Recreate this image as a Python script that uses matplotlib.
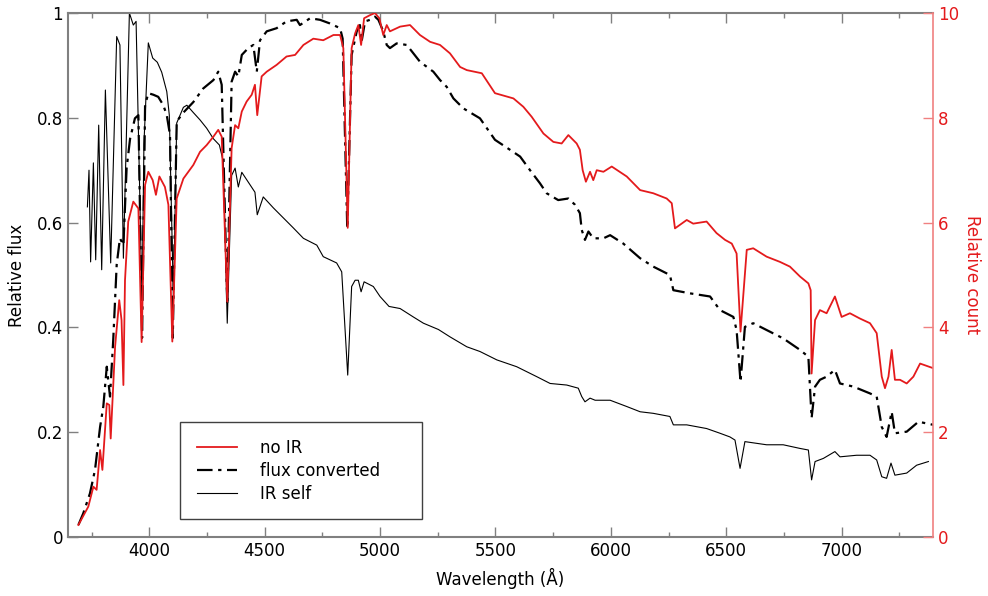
import matplotlib
matplotlib.use("Agg")
import matplotlib.pyplot as plt
from matplotlib.ticker import MultipleLocator

# IR self (thin black, left axis)
wl_self = [3732, 3739, 3746, 3758, 3768, 3781, 3794, 3810, 3833, 3859, 3873, 3888,
           3914, 3931, 3943, 3963, 3969, 3977, 3996, 4015, 4035, 4054, 4076, 4087,
           4105, 4119, 4148, 4163, 4191, 4220, 4249, 4278, 4304, 4321, 4338, 4357,
           4372, 4386, 4401, 4437, 4458, 4468, 4494, 4538, 4581, 4624, 4668, 4726,
           4754, 4812, 4834, 4860, 4877, 4892, 4906, 4918, 4931, 4971, 5000, 5039,
           5087, 5144, 5188, 5253, 5303, 5376, 5433, 5506, 5592, 5679, 5737, 5809,
           5859, 5874, 5888, 5910, 5932, 5997, 6069, 6127, 6184, 6256, 6271, 6329,
           6415, 6473, 6516, 6538, 6560, 6581, 6675, 6747, 6820, 6856, 6870, 6885,
           6921, 6971, 6993, 7065, 7123, 7152, 7174, 7195, 7214, 7231, 7282, 7325, 7376]
flux_self = [0.63, 0.70, 0.525, 0.714, 0.529, 0.786, 0.51, 0.853, 0.523, 0.955, 0.939, 0.532,
             1.0, 0.977, 0.984, 0.57, 0.45, 0.75, 0.943, 0.914, 0.906, 0.887, 0.85, 0.805,
             0.45, 0.79, 0.82, 0.824, 0.81, 0.796, 0.78, 0.76, 0.748, 0.716, 0.408, 0.69,
             0.704, 0.668, 0.696, 0.672, 0.658, 0.615, 0.649, 0.628, 0.609, 0.59, 0.57, 0.557,
             0.535, 0.523, 0.506, 0.309, 0.478, 0.49, 0.49, 0.468, 0.487, 0.478, 0.459, 0.44,
             0.436, 0.42, 0.408, 0.396, 0.382, 0.363, 0.354, 0.338, 0.325, 0.306, 0.293, 0.29,
             0.284, 0.268, 0.258, 0.265, 0.261, 0.261, 0.249, 0.239, 0.236, 0.23, 0.214, 0.214,
             0.207, 0.198, 0.191, 0.185, 0.131, 0.182, 0.176, 0.176, 0.169, 0.166, 0.109, 0.144,
             0.15, 0.163, 0.153, 0.156, 0.156, 0.147, 0.115, 0.112, 0.141, 0.118, 0.122, 0.137, 0.144]

# flux converted (dash-dot black, left axis)
wl_conv = [3693, 3714, 3743, 3765, 3787, 3801, 3816, 3830, 3844, 3859, 3873, 3888,
           3902, 3917, 3938, 3953, 3969, 3982, 3996, 4018, 4039, 4061, 4076, 4090,
           4102, 4119, 4148, 4191, 4234, 4278, 4299, 4314, 4338, 4357, 4372, 4386,
           4401, 4429, 4451, 4466, 4480, 4509, 4552, 4595, 4639, 4653, 4697, 4740,
           4783, 4827, 4838, 4858, 4877, 4899, 4913, 4920, 4935, 4957, 4978, 4993,
           5014, 5029, 5043, 5072, 5116, 5173, 5231, 5260, 5289, 5318, 5361, 5433,
           5498, 5563, 5607, 5650, 5693, 5722, 5772, 5816, 5845, 5866, 5874, 5888,
           5903, 5924, 5968, 5997, 6054, 6127, 6184, 6256, 6271, 6343, 6430, 6473,
           6531, 6545, 6562, 6581, 6617, 6675, 6747, 6820, 6856, 6870, 6885, 6906,
           6935, 6971, 6993, 7051, 7123, 7152, 7174, 7195, 7217, 7231, 7282, 7333, 7398]
flux_conv = [0.023, 0.045, 0.083, 0.128, 0.21, 0.249, 0.325, 0.268, 0.376, 0.52, 0.57, 0.557,
             0.704, 0.76, 0.799, 0.805, 0.38, 0.824, 0.847, 0.844, 0.84, 0.824, 0.805, 0.767,
             0.38, 0.793, 0.81, 0.83, 0.856, 0.872, 0.888, 0.863, 0.443, 0.869, 0.888, 0.879,
             0.92, 0.933, 0.939, 0.888, 0.948, 0.965, 0.971, 0.984, 0.987, 0.977, 0.99, 0.987,
             0.98, 0.971, 0.951, 0.589, 0.92, 0.965, 0.977, 0.945, 0.984, 0.987, 0.993, 0.987,
             0.965, 0.939, 0.933, 0.942, 0.939, 0.907, 0.888, 0.872, 0.859, 0.837, 0.818, 0.799,
             0.758, 0.739, 0.726, 0.70, 0.675, 0.656, 0.643, 0.646, 0.634, 0.618, 0.586, 0.567,
             0.583, 0.57, 0.57, 0.576, 0.56, 0.532, 0.516, 0.50, 0.471, 0.465, 0.459, 0.433,
             0.42, 0.395, 0.296, 0.401, 0.408, 0.395, 0.379, 0.357, 0.344, 0.227, 0.287, 0.30,
             0.306, 0.319, 0.293, 0.287, 0.274, 0.268, 0.21, 0.191, 0.239, 0.198, 0.201, 0.22, 0.214]

# no IR (red, right axis)
wl_noir = [3693, 3736, 3758, 3772, 3787, 3797, 3816, 3827, 3833, 3852, 3870, 3880,
           3888, 3895, 3909, 3931, 3953, 3967, 3982, 3996, 4015, 4029, 4044, 4068,
           4083, 4100, 4119, 4148, 4191, 4220, 4249, 4278, 4299, 4314, 4338, 4357,
           4372, 4386, 4401, 4422, 4444, 4458, 4468, 4487, 4509, 4552, 4595, 4632,
           4668, 4711, 4754, 4798, 4827, 4841, 4860, 4877, 4892, 4906, 4918, 4931,
           4957, 4978, 4997, 5014, 5029, 5043, 5087, 5130, 5173, 5217, 5260, 5303,
           5347, 5376, 5441, 5498, 5578, 5621, 5657, 5708, 5751, 5787, 5816, 5852,
           5866, 5878, 5892, 5910, 5924, 5939, 5968, 6004, 6069, 6127, 6184, 6242,
           6264, 6278, 6329, 6357, 6415, 6458, 6495, 6524, 6545, 6562, 6589, 6617,
           6675, 6733, 6776, 6820, 6856, 6866, 6870, 6885, 6906, 6935, 6971, 7000,
           7036, 7079, 7123, 7152, 7174, 7188, 7203, 7217, 7231, 7253, 7282, 7311, 7340, 7398]
count_noir = [0.23, 0.58, 0.96, 0.90, 1.66, 1.28, 2.55, 2.52, 1.88, 3.63, 4.52, 4.14,
              2.90, 4.90, 6.02, 6.40, 6.27, 3.72, 6.72, 6.97, 6.81, 6.53, 6.88, 6.68,
              6.34, 3.73, 6.46, 6.84, 7.10, 7.35, 7.48, 7.64, 7.77, 7.64, 4.49, 7.42,
              7.86, 7.80, 8.12, 8.31, 8.44, 8.63, 8.05, 8.79, 8.88, 9.01, 9.17, 9.20,
              9.39, 9.51, 9.48, 9.58, 9.58, 9.33, 5.90, 9.33, 9.61, 9.77, 9.39, 9.90,
              9.96, 10.0, 9.90, 9.58, 9.77, 9.65, 9.74, 9.77, 9.58, 9.45, 9.39, 9.23,
              8.97, 8.91, 8.85, 8.47, 8.37, 8.21, 8.02, 7.70, 7.54, 7.51, 7.67, 7.51,
              7.39, 7.00, 6.78, 6.97, 6.81, 7.00, 6.97, 7.07, 6.88, 6.62, 6.56, 6.46,
              6.37, 5.89, 6.05, 5.98, 6.02, 5.80, 5.67, 5.60, 5.41, 3.92, 5.48, 5.51,
              5.35, 5.25, 5.16, 4.97, 4.84, 4.71, 3.12, 4.14, 4.33, 4.27, 4.59, 4.20,
              4.27, 4.17, 4.08, 3.89, 3.06, 2.84, 3.06, 3.57, 3.00, 3.00, 2.93, 3.06, 3.31, 3.22]

RED = "#e41a1c"
GREY = "#808080"

fig = plt.figure(figsize=(9.88, 5.96), dpi=100)
ax = fig.add_axes([68 / 988, 59 / 596, 865 / 988, 524 / 596])
ax2 = ax.twinx()

l_self, = ax.plot(wl_self, flux_self, color="black", lw=0.8, label="IR self")
l_conv, = ax.plot(wl_conv, flux_conv, color="black", lw=1.6,
                  dashes=(7, 2.5, 1.5, 2.5), label="flux converted")
l_noir, = ax2.plot(wl_noir, count_noir, color=RED, lw=1.3, label="no IR")

ax.set_xlim(3648, 7396)
ax.set_ylim(0, 1)
ax2.set_ylim(0, 10)

ax.xaxis.set_major_locator(MultipleLocator(500))
ax.xaxis.set_minor_locator(MultipleLocator(250))
ax.set_yticks([0, 0.2, 0.4, 0.6, 0.8, 1])
ax.set_yticklabels(["0", "0.2", "0.4", "0.6", "0.8", "1"])
ax2.set_yticks([0, 2, 4, 6, 8, 10])

ax.tick_params(axis="both", which="major", direction="in", length=7, width=1,
               color=GREY, labelsize=12, top=True, right=False)
ax.tick_params(axis="x", which="minor", direction="in", length=3.5, width=1,
               color=GREY, top=True)
ax2.tick_params(axis="y", direction="in", length=7, width=1, color="#f08080",
                labelcolor=RED, labelsize=12)

for side in ["left", "bottom", "top"]:
    ax.spines[side].set_color(GREY)
    ax.spines[side].set_linewidth(1.5)
ax.spines["right"].set_visible(False)
for side in ["left", "bottom", "top"]:
    ax2.spines[side].set_visible(False)
ax2.spines["right"].set_color("#f08080")
ax2.spines["right"].set_linewidth(1.2)

ax.set_xlabel("Wavelength (Å)", fontsize=12, labelpad=6)
ax.set_ylabel("Relative flux", fontsize=12, labelpad=8)
ax2.set_ylabel("Relative count", fontsize=12, color=RED, rotation=270, labelpad=16)

leg = ax2.legend([l_noir, l_conv, l_self], ["no IR", "flux converted", "IR self"],
                 loc="lower left", bbox_to_anchor=(0.1295, 0.034, 0.28, 0.18),
                 mode="expand", borderaxespad=0, fontsize=12, frameon=True,
                 fancybox=False, framealpha=1, edgecolor="#404040", borderpad=1.0,
                 handlelength=2.4, handletextpad=1.4, labelspacing=0.3)
leg.get_frame().set_linewidth(1.0)

fig.savefig("out.png", dpi=100)
